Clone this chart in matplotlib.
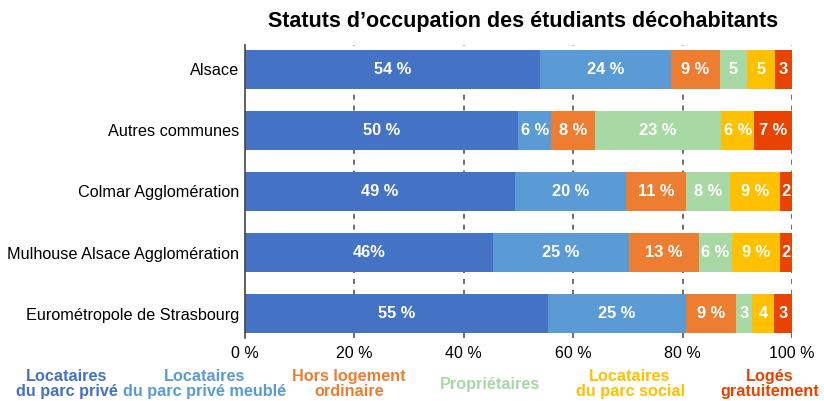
import matplotlib
matplotlib.use("Agg")
import matplotlib.pyplot as plt
import numpy as np

plt.rcParams['font.family'] = ['Liberation Sans', 'DejaVu Sans']

categories = ["Alsace", "Autres communes", "Colmar Agglomération",
              "Mulhouse Alsace Agglomération", "Eurométropole de Strasbourg"]
series_names = ["Locataires\ndu parc privé", "Locataires\ndu parc privé meublé",
                "Hors logement\nordinaire", "Propriétaires",
                "Locataires\ndu parc social", "Logés\ngratuitement"]
colors = ["#4472C4", "#5B9BD5", "#ED7D31", "#A8D8A4", "#FFC000", "#E84300"]

values = [
    [53.9, 24.0, 8.9, 5.0, 5.0, 3.2],
    [49.9, 6.1, 7.9, 23.1, 6.1, 6.9],
    [49.4, 20.2, 11.0, 8.1, 9.1, 2.2],
    [45.3, 24.9, 12.8, 6.0, 8.8, 2.2],
    [55.4, 25.2, 9.2, 2.9, 4.0, 3.3],
]
labels = [
    ["54 %", "24 %", "9 %", "5", "5", "3"],
    ["50 %", "6 %", "8 %", "23 %", "6 %", "7 %"],
    ["49 %", "20 %", "11 %", "8 %", "9 %", "2"],
    ["46%", "25 %", "13 %", "6 %", "9 %", "2"],
    ["55 %", "25 %", "9 %", "3", "4", "3"],
]
xticks = [0, 20, 40, 60, 80, 100]
xticklabels = ["0 %", "20 %", "40 %", "60 %", "80 %", "100 %"]

fig = plt.figure(figsize=(8.24, 4.01), dpi=100)
ax = fig.add_axes([0.2973, 0.157, 0.6639, 0.731])

vals = np.array(values)
y = np.arange(len(categories))
for xv in xticks[1:]:
    ax.axvline(xv, color="#555555", lw=1.2, ls=(0, (3, 3.5)), zorder=0)

left = np.zeros(len(categories))
for j in range(vals.shape[1]):
    ax.barh(y, vals[:, j], left=left, height=0.64, color=colors[j], zorder=2)
    for i in range(len(categories)):
        cx = left[i] + vals[i, j] / 2
        ax.text(cx, y[i], labels[i][j], ha="center", va="center", color="white",
                fontsize=11.8, fontweight="bold", zorder=3, clip_on=True)
    left += vals[:, j]

ax.set_xlim(0, 100)
ax.set_ylim(4.4, -0.4)
ax.set_yticks(y)
ax.set_yticklabels(categories, fontsize=11.7)
ax.set_xticks(xticks)
ax.set_xticklabels(xticklabels, fontsize=11.5)
ax.tick_params(axis="y", length=0, pad=4)
ax.tick_params(axis="x", length=0, pad=6)
for s in ["top", "right", "bottom"]:
    ax.spines[s].set_visible(False)
ax.spines["left"].set_color("#444444")
ax.spines["left"].set_linewidth(1.2)

fig.text(523 / 824, 1 - 22 / 401, "Statuts d’occupation des étudiants décohabitants",
         ha="center", va="center", fontsize=15.5, fontweight="bold")

legend_x = [67, 205, 349, 490, 630, 770]
for j, name in enumerate(series_names):
    fig.text(legend_x[j] / 824, 1 - 384 / 401, name, ha="center", va="center",
             color=colors[j], fontsize=11.7, fontweight="bold", linespacing=0.95)

fig.savefig("out.png", dpi=100)
